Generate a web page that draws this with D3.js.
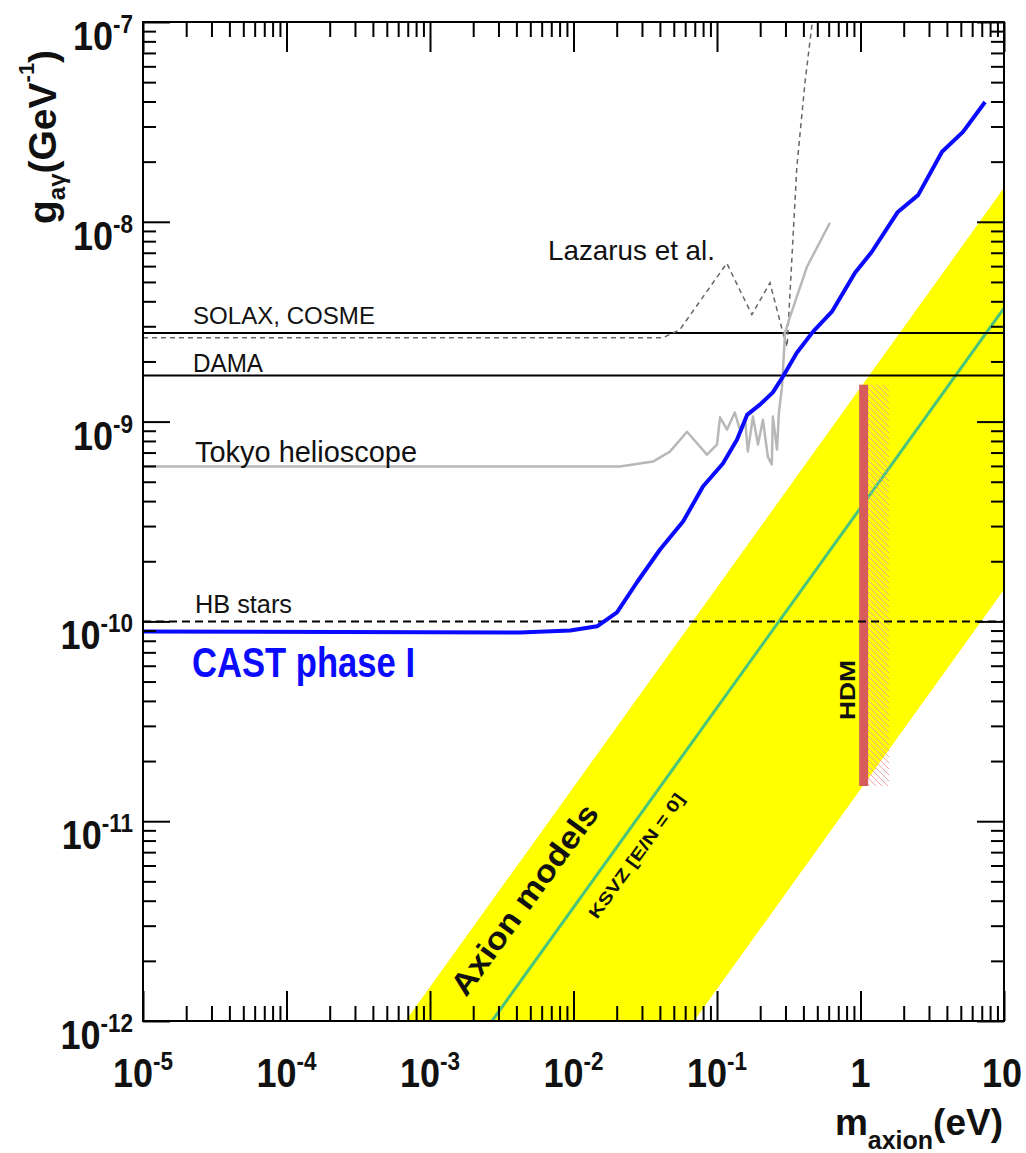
<!DOCTYPE html>
<html>
<head>
<meta charset="utf-8">
<script src="https://cdn.jsdelivr.net/npm/d3@7"></script>
<style>
  body { margin: 0; background: #fff; }
  svg { display: block; font-family: "Liberation Sans", Arial, sans-serif; }
</style>
</head>
<body>
<svg id="chart" width="1026" height="1153"></svg>
<script>
// ---- data (mass in eV, coupling in GeV^-1) ----
const castMass = [1e-5, 4.24e-3, 9.5e-3, 0.0146, 0.0201, 0.0277, 0.0401, 0.058, 0.0798, 0.110, 0.138, 0.162, 0.2, 0.245, 0.288, 0.36, 0.467, 0.632, 0.916, 1.20, 1.82, 2.52, 3.70, 5.18, 7.38];
const castCoupling = [8.9e-11, 8.8e-11, 9.0e-11, 9.45e-11, 1.11e-10, 1.57e-10, 2.29e-10, 3.16e-10, 4.73e-10, 6.17e-10, 8.13e-10, 1.08e-9, 1.22e-9, 1.40e-9, 1.68e-9, 2.21e-9, 2.82e-9, 3.55e-9, 5.56e-9, 7.08e-9, 1.12e-8, 1.36e-8, 2.24e-8, 2.82e-8, 3.98e-8];

const tokyoMass = [1e-5, 0.0211, 0.0358, 0.047, 0.0618, 0.0851, 0.1, 0.105, 0.1175, 0.133, 0.1445, 0.157, 0.164, 0.178, 0.193, 0.209, 0.226, 0.241, 0.245, 0.262, 0.270, 0.284, 0.298, 0.323, 0.424, 0.612];
const tokyoCoupling = [5.96e-10, 5.96e-10, 6.31e-10, 7.08e-10, 8.9e-10, 6.84e-10, 7.67e-10, 1.05e-9, 9.12e-10, 1.11e-9, 9.12e-10, 1.02e-9, 7.08e-10, 1.06e-9, 7.67e-10, 1.02e-9, 6.68e-10, 6.1e-10, 1.06e-9, 7.24e-10, 1.11e-9, 1.50e-9, 2.79e-9, 3.35e-9, 5.96e-9, 9.89e-9];

const lazarusMass = [1e-5, 0.042, 0.055, 0.117, 0.175, 0.234, 0.288, 0.308, 0.36, 0.41, 0.459];
const lazarusCoupling = [2.63e-9, 2.63e-9, 2.88e-9, 6.2e-9, 3.43e-9, 4.95e-9, 2.79e-9, 2.37e-9, 1.88e-8, 4.95e-8, 9.7e-8];

const solaxCoupling = 2.78e-9;
const damaCoupling = 1.7e-9;
const hbCoupling = 1e-10;

// axion model band and KSVZ line: g = coefficient * m
const bandUpperCoef = 1.48e-9;
const bandLowerCoef = 1.445e-11;
const ksvzCoef = 3.7e-10;

// hot dark matter limit
const hdmMass = 1.06;
const hdmCoupling = [1.5e-11, 1.53e-9];

const xMajor = [1e-5, 1e-4, 1e-3, 1e-2, 1e-1, 1, 10];
const xTickBase = ["10", "10", "10", "10", "10", "1", "10"];
const xTickSup = ["-5", "-4", "-3", "-2", "-1", "", ""];
const yMajor = [1e-12, 1e-11, 1e-10, 1e-9, 1e-8, 1e-7];
const yTickBase = ["10", "10", "10", "10", "10", "10"];
const yTickSup = ["-12", "-11", "-10", "-9", "-8", "-7"];

// ---- chart ----
const svg = d3.select('#chart');
const pl = 143, pr = 1004, pt = 22, pb = 1021;

const x = d3.scaleLog().domain([1e-5, 10]).range([pl, pr]);
const y = d3.scaleLog().domain([1e-12, 1e-7]).range([pb, pt]);

const defs = svg.append('defs');
defs.append('clipPath').attr('id', 'plot')
  .append('rect').attr('x', pl).attr('y', pt).attr('width', pr - pl).attr('height', pb - pt);
const hatch = defs.append('pattern').attr('id', 'hatch')
  .attr('patternUnits', 'userSpaceOnUse').attr('width', 6).attr('height', 6);
hatch.append('path').attr('d', 'M0,0 L6,6 M-1,5 L1,7 M5,-1 L7,1')
  .attr('stroke', '#f09a9a').attr('stroke-width', 0.9);

const plot = svg.append('g').attr('clip-path', 'url(#plot)');

// yellow band
const bandPts = [
  [1e-5, bandUpperCoef * 1e-5], [10, bandUpperCoef * 10],
  [10, bandLowerCoef * 10], [1e-5, bandLowerCoef * 1e-5]
];
plot.append('polygon')
  .attr('points', bandPts.map(d => x(d[0]) + ',' + y(d[1])).join(' '))
  .attr('fill', '#ffff00');

// KSVZ line
plot.append('line')
  .attr('x1', x(1e-5)).attr('y1', y(ksvzCoef * 1e-5))
  .attr('x2', x(10)).attr('y2', y(ksvzCoef * 10))
  .attr('stroke', '#48c47c').attr('stroke-width', 3);

// HDM hatch + bar
plot.append('rect')
  .attr('x', x(hdmMass) + 4).attr('y', y(hdmCoupling[1]))
  .attr('width', 21).attr('height', y(hdmCoupling[0]) - y(hdmCoupling[1]))
  .attr('fill', 'url(#hatch)');
plot.append('rect')
  .attr('x', x(hdmMass) - 5).attr('y', y(hdmCoupling[1]))
  .attr('width', 9).attr('height', y(hdmCoupling[0]) - y(hdmCoupling[1]))
  .attr('fill', '#d65c5c');

// horizontal limits
function hline(g, color, dash) {
  const l = plot.append('line')
    .attr('x1', pl).attr('x2', pr).attr('y1', y(g)).attr('y2', y(g))
    .attr('stroke', color).attr('stroke-width', 2);
  if (dash) l.attr('stroke-dasharray', dash);
}
hline(solaxCoupling, '#000');
hline(damaCoupling, '#000');
hline(hbCoupling, '#000', '8,5');

const line = d3.line().x(d => x(d[0])).y(d => y(d[1]));

plot.append('path')
  .datum(lazarusMass.map((m, i) => [m, lazarusCoupling[i]]))
  .attr('fill', 'none').attr('stroke', '#666').attr('stroke-width', 1.5)
  .attr('stroke-dasharray', '5,4').attr('d', line);

plot.append('path')
  .datum(tokyoMass.map((m, i) => [m, tokyoCoupling[i]]))
  .attr('fill', 'none').attr('stroke', '#b8b8b8').attr('stroke-width', 2.5)
  .attr('stroke-linejoin', 'round').attr('d', line);

plot.append('path')
  .datum(castMass.map((m, i) => [m, castCoupling[i]]))
  .attr('fill', 'none').attr('stroke', '#0a0aff').attr('stroke-width', 4)
  .attr('stroke-linejoin', 'round').attr('d', line);

// ---- ticks ----
const xMinor = [], yMinor = [];
for (let e = -5; e < 1; e++) for (let k = 2; k < 10; k++) xMinor.push(k * Math.pow(10, e));
for (let e = -12; e < -7; e++) for (let k = 2; k < 10; k++) yMinor.push(k * Math.pow(10, e));

function ticks(axis, tr) {
  svg.append('g').attr('transform', tr).call(axis)
    .call(g => g.select('.domain').remove())
    .call(g => g.selectAll('line').attr('stroke', '#000').attr('stroke-width', 2));
}
ticks(d3.axisBottom(x).tickValues(xMajor).tickSize(-30).tickFormat(''), `translate(0,${pb})`);
ticks(d3.axisBottom(x).tickValues(xMinor).tickSize(-15).tickFormat(''), `translate(0,${pb})`);
ticks(d3.axisTop(x).tickValues(xMajor).tickSize(-30).tickFormat(''), `translate(0,${pt})`);
ticks(d3.axisTop(x).tickValues(xMinor).tickSize(-15).tickFormat(''), `translate(0,${pt})`);
ticks(d3.axisLeft(y).tickValues(yMajor).tickSize(-27).tickFormat(''), `translate(${pl},0)`);
ticks(d3.axisLeft(y).tickValues(yMinor).tickSize(-13).tickFormat(''), `translate(${pl},0)`);
ticks(d3.axisRight(y).tickValues(yMajor).tickSize(-27).tickFormat(''), `translate(${pr},0)`);
ticks(d3.axisRight(y).tickValues(yMinor).tickSize(-13).tickFormat(''), `translate(${pr},0)`);

svg.append('rect').attr('x', pl).attr('y', pt)
  .attr('width', pr - pl).attr('height', pb - pt)
  .attr('fill', 'none').attr('stroke', '#000').attr('stroke-width', 2);

// ---- tick labels (power-of-ten, slightly condensed) ----
function powLabel(px, py, base, sup, anchor) {
  const t = svg.append('text')
    .attr('transform', `translate(${px},${py}) scale(0.9,1)`)
    .attr('text-anchor', anchor)
    .attr('font-weight', 'bold').attr('font-size', 40).attr('fill', '#111');
  t.append('tspan').text(base);
  if (sup) t.append('tspan').attr('font-size', 25).attr('dy', -17).text(sup);
  return t;
}
xMajor.forEach((v, i) => {
  const px = Math.min(x(v), 1004);
  powLabel(i === xMajor.length - 1 ? px - 2 : px, 1087, xTickBase[i], xTickSup[i], 'middle');
});
yMajor.forEach((v, i) => {
  powLabel(133, y(v) + 28, yTickBase[i], yTickSup[i], 'end');
});

// ---- axis titles ----
const yt = svg.append('text').attr('transform', 'translate(56,224) rotate(-90)')
  .attr('font-weight', 'bold').attr('font-size', 39).attr('fill', '#111');
yt.append('tspan').text('g');
yt.append('tspan').attr('font-size', 24).attr('dy', 9).text('aγ');
yt.append('tspan').attr('dy', -9).text('(GeV');
yt.append('tspan').attr('font-size', 22).attr('dy', -22).text('-1');
yt.append('tspan').attr('dy', 22).text(')');

const xt = svg.append('text').attr('x', 1003).attr('y', 1135).attr('text-anchor', 'end')
  .attr('font-weight', 'bold').attr('font-size', 37).attr('fill', '#111');
xt.append('tspan').text('m');
xt.append('tspan').attr('font-size', 25).attr('dy', 14).text('axion');
xt.append('tspan').attr('dy', -14).text('(eV)');

// ---- annotations ----
function note(px, py, str, size, len, opts = {}) {
  const t = svg.append('text').attr('x', px).attr('y', py)
    .attr('font-size', size).attr('fill', opts.color || '#111')
    .attr('font-weight', opts.weight || 'normal')
    .attr('textLength', len).attr('lengthAdjust', 'spacingAndGlyphs')
    .text(str);
  if (opts.rotate) t.attr('transform', `rotate(${opts.rotate},${px},${py})`);
  return t;
}
note(548, 260, 'Lazarus et al.', 28, 167);
note(193, 324, 'SOLAX, COSME', 24, 182);
note(193, 372, 'DAMA', 25, 70);
note(195, 462, 'Tokyo helioscope', 30, 222);
note(195, 613, 'HB stars', 26, 97);
note(192, 677, 'CAST phase I', 42, 223, { color: '#0a0aff', weight: 'bold' });
note(466, 998, 'Axion models', 31, 228, { rotate: -54, weight: 'bold' });
note(597, 920, 'KSVZ [E/N = 0]', 17, 150, { rotate: -54, weight: 'bold' });
note(855, 720, 'HDM', 22, 60, { rotate: -90, weight: 'bold' });
</script>
</body>
</html>
